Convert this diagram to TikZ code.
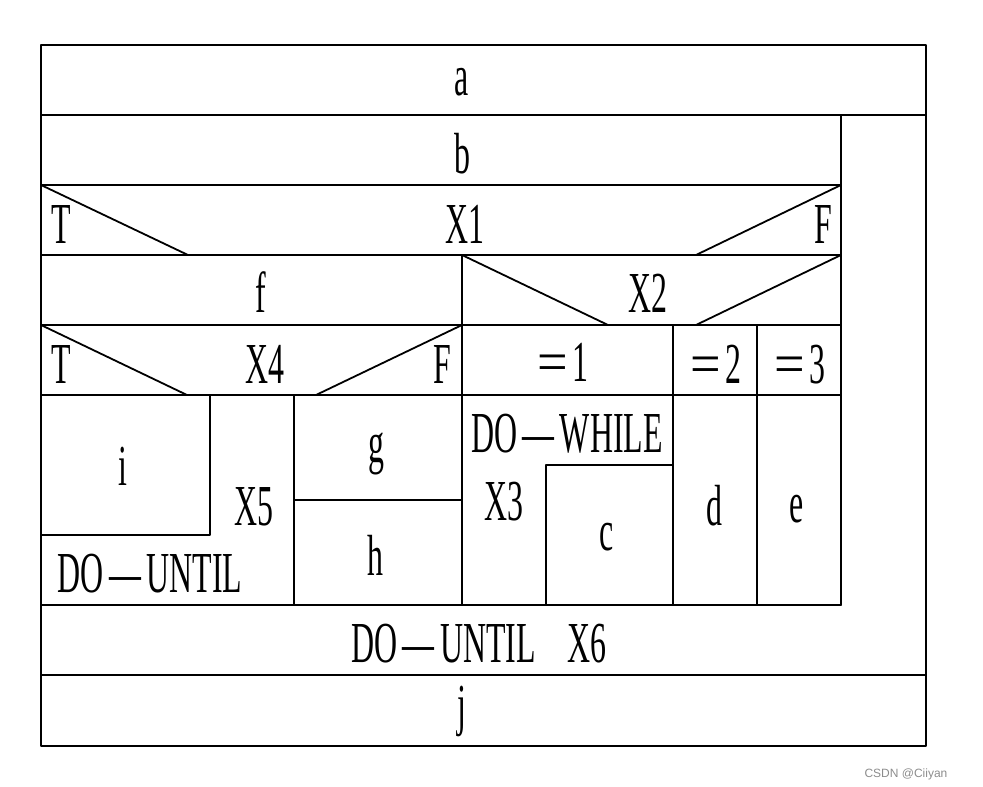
\documentclass[tikz,border=0pt]{standalone}
\usepackage{fontspec}
\setmainfont{Liberation Serif}
\newfontfamily\wmfont{Liberation Sans}
\newcommand{\ns}[1]{\scalebox{0.55}[1]{#1}}
\newcommand{\weq}{\scalebox{1.7}[1]{=}}
\tikzset{
  lbl/.style={anchor=base, inner sep=0pt, font=\fontsize{58}{58}\selectfont},
  rule/.style={line width=1.8pt, line cap=round, line join=round}
}
\begin{document}
\begin{tikzpicture}[x=1pt,y=-1pt]
\useasboundingbox (0,0) rectangle (983,787);
\draw[rule] (41,45) rectangle (926,746);
\draw[rule] (41,115) -- (926,115);
\draw[rule] (41,675) -- (926,675);
\foreach \y in {185,255,325,395,605}
  \draw[rule] (41,\y) -- (841,\y);
\draw[rule] (841,115) -- (841,605);
\draw[rule] (462,255) -- (462,605);
\draw[rule] (673,325) -- (673,605);
\draw[rule] (757,325) -- (757,605);
\draw[rule] (294,395) -- (294,605);
\draw[rule] (41,535) -- (210,535) -- (210,395);
\draw[rule] (294,500) -- (462,500);
\draw[rule] (546,605) -- (546,465) -- (673,465);
\draw[rule] (41,185) -- (188,255);
\draw[rule] (841,185) -- (696,255);
\draw[rule] (462,255) -- (608,325);
\draw[rule] (841,255) -- (696,325);
\draw[rule] (41,325) -- (187,395);
\draw[rule] (462,325) -- (316,395);
\node[lbl] (a) at (462,95) {\ns{a}};
\node[lbl] (b) at (462,173) {\ns{b}};
\node[lbl] (x1) at (465,243) {\ns{X1}};
\node[lbl] (t1) at (61,243) {\ns{T}};
\node[lbl] (f1) at (823,243) {\ns{F}};
\node[lbl] (f) at (261,312) {\ns{f}};
\node[lbl] (x2) at (648,312) {\ns{X2}};
\node[lbl] (x4) at (265,383) {\ns{X4}};
\node[lbl] (t4) at (61,383) {\ns{T}};
\node[lbl] (f4) at (442,383) {\ns{F}};
\node[lbl] (eq1) at (563,381) {\ns{\weq\,1}};
\node[lbl] (eq2) at (716,383) {\ns{\weq\,2}};
\node[lbl] (eq3) at (800,383) {\ns{\weq\,3}};
\node[lbl] (i) at (123,485) {\ns{i}};
\node[lbl] (x5) at (254,525) {\ns{X5}};
\node[lbl] (du) at (150,592) {\ns{DO\,—\,UNTIL}};
\node[lbl] (g) at (376,462) {\ns{g}};
\node[lbl] (h) at (375,575) {\ns{h}};
\node[lbl] (dw) at (567,452) {\ns{DO\,—\,WHILE}};
\node[lbl] (x3) at (504,520) {\ns{X3}};
\node[lbl] (c) at (607,550) {\ns{c}};
\node[lbl] (d) at (714,525) {\ns{d}};
\node[lbl] (e) at (797,522) {\ns{e}};
\node[lbl] (x6) at (479,662) {\ns{DO\,—\,UNTIL\ \ \ \ X6}};
\node[lbl] (j) at (462,724) {\ns{j}};
\node[anchor=base, inner sep=0pt, text=black!45, font=\wmfont\fontsize{12}{12}\selectfont] (wm) at (906,777) {CSDN @Ciiyan};
\end{tikzpicture}
\end{document}
